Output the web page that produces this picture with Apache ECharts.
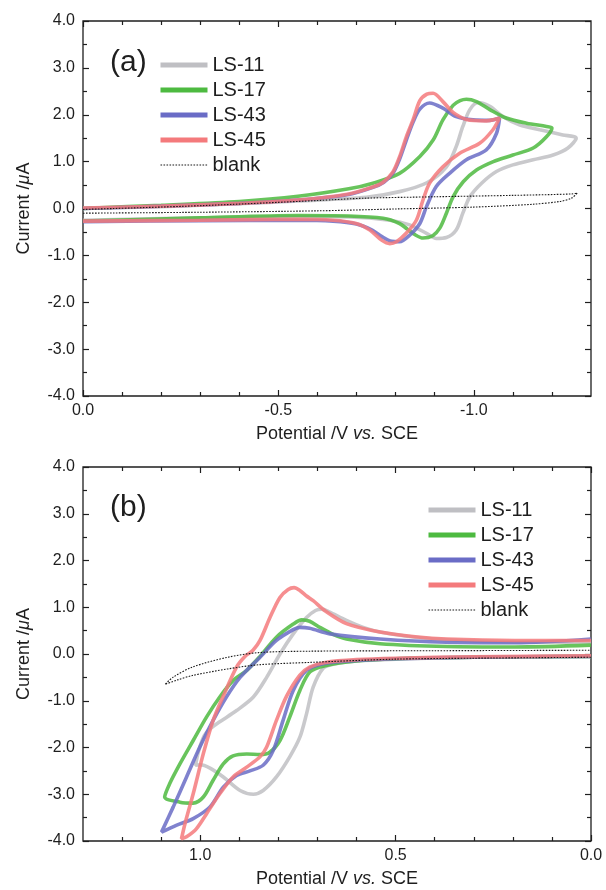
<!DOCTYPE html>
<html>
<head>
<meta charset="utf-8">
<script src="https://cdn.jsdelivr.net/npm/echarts@6/dist/echarts.min.js"></script>
<style>
  html, body { margin: 0; padding: 0; background: #fff; }
  #chart { width: 606px; height: 890px; }
</style>
</head>
<body>
<div id="chart"></div>
<script>
  // ---- data: [potential V, current uA] ----
  const seriesNames = ['LS-11', 'LS-17', 'LS-43', 'LS-45', 'blank']

  // panel (a), cathodic scans
  const aLS11 = [[0, 0.0], [-0.2, 0.04], [-0.4, 0.1], [-0.55, 0.16], [-0.725, 0.24], [-0.81, 0.36], [-0.88, 0.55], [-0.93, 0.89], [-0.955, 1.32], [-0.972, 1.75], [-0.99, 2.11], [-1.011, 2.26], [-1.041, 2.18], [-1.075, 1.96], [-1.118, 1.78], [-1.169, 1.68], [-1.228, 1.57], [-1.262, 1.5],
    [-1.241, 1.29], [-1.203, 1.14], [-1.152, 1.04], [-1.1, 0.93], [-1.058, 0.79], [-1.02, 0.54], [-0.99, 0.25], [-0.972, -0.1], [-0.955, -0.46], [-0.93, -0.62], [-0.904, -0.64], [-0.879, -0.53], [-0.836, -0.35], [-0.785, -0.25], [-0.682, -0.18], [-0.55, -0.17], [-0.3, -0.2], [0, -0.25]]
  const aLS17 = [[0, 0.0], [-0.2, 0.07], [-0.4, 0.15], [-0.55, 0.26], [-0.68, 0.42], [-0.742, 0.54], [-0.81, 0.75], [-0.862, 1.11], [-0.896, 1.46], [-0.921, 1.89], [-0.947, 2.2], [-0.965, 2.3], [-0.981, 2.33], [-1.007, 2.28], [-1.041, 2.11], [-1.083, 1.93], [-1.135, 1.82], [-1.186, 1.75], [-1.2, 1.72],
    [-1.186, 1.53], [-1.152, 1.29], [-1.1, 1.14], [-1.05, 1.0], [-1.007, 0.82], [-0.973, 0.57], [-0.947, 0.25], [-0.93, -0.1], [-0.913, -0.42], [-0.895, -0.58], [-0.87, -0.63], [-0.85, -0.56], [-0.83, -0.44], [-0.81, -0.32], [-0.768, -0.21], [-0.68, -0.16], [-0.55, -0.15], [-0.3, -0.2], [0, -0.27]]
  const aLS43 = [[0, 0.0], [-0.2, 0.05], [-0.4, 0.11], [-0.55, 0.18], [-0.68, 0.3], [-0.742, 0.45], [-0.77, 0.56], [-0.793, 0.75], [-0.81, 1.05], [-0.827, 1.45], [-0.845, 1.85], [-0.862, 2.12], [-0.887, 2.25], [-0.921, 2.14], [-0.955, 1.96], [-0.998, 1.89], [-1.041, 1.88], [-1.066, 1.93],
    [-1.058, 1.6], [-1.032, 1.25], [-0.981, 1.04], [-0.938, 0.75], [-0.904, 0.47], [-0.879, 0.04], [-0.862, -0.32], [-0.836, -0.57], [-0.81, -0.71], [-0.79, -0.7], [-0.765, -0.6], [-0.74, -0.46], [-0.7, -0.33], [-0.64, -0.27], [-0.55, -0.25], [-0.3, -0.26], [0, -0.28]]
  const aLS45 = [[0, 0.01], [-0.2, 0.05], [-0.4, 0.11], [-0.55, 0.18], [-0.68, 0.31], [-0.742, 0.46], [-0.768, 0.56], [-0.793, 0.78], [-0.81, 1.1], [-0.827, 1.52], [-0.845, 1.9], [-0.862, 2.3], [-0.88, 2.44], [-0.896, 2.46], [-0.921, 2.28], [-0.947, 2.05], [-0.981, 1.9], [-1.032, 1.87], [-1.066, 1.93],
    [-1.049, 1.68], [-1.015, 1.39], [-0.964, 1.18], [-0.921, 0.89], [-0.887, 0.54], [-0.87, 0.18], [-0.853, -0.25], [-0.827, -0.53], [-0.802, -0.71], [-0.785, -0.75], [-0.765, -0.68], [-0.734, -0.46], [-0.699, -0.32], [-0.64, -0.25], [-0.55, -0.23], [-0.3, -0.25], [0, -0.27]]
  const aBlank = [[0, -0.02], [-0.3, 0.06], [-0.6, 0.17], [-0.72, 0.22], [-0.9, 0.25], [-1.1, 0.28], [-1.25, 0.31], [-1.265, 0.33],
    [-1.25, 0.22], [-1.22, 0.15], [-1.15, 0.09], [-1.0, 0.03], [-0.8, -0.01], [-0.6, -0.05], [-0.3, -0.08], [0, -0.1]]

  // panel (b), anodic scans
  const bLS11 = [[0, -0.05], [0.3, -0.07], [0.5, -0.11], [0.6, -0.15], [0.66, -0.22], [0.685, -0.3], [0.711, -0.71], [0.728, -1.28], [0.745, -1.78], [0.771, -2.2], [0.805, -2.63], [0.839, -2.92], [0.864, -3.0], [0.898, -2.92], [0.941, -2.63], [0.975, -2.44], [1.0, -2.37], [1.012, -2.38],
    [1.005, -2.1], [0.99, -1.75], [0.975, -1.6], [0.95, -1.45], [0.907, -1.21], [0.864, -0.92], [0.83, -0.5], [0.796, 0.0], [0.762, 0.43], [0.728, 0.78], [0.705, 0.93], [0.689, 0.96], [0.67, 0.9], [0.626, 0.72], [0.583, 0.57], [0.54, 0.47], [0.45, 0.36], [0.3, 0.28], [0.1, 0.25], [0, 0.25]]
  const bLS17 = [[0, -0.05], [0.3, -0.07], [0.5, -0.1], [0.6, -0.15], [0.68, -0.25], [0.719, -0.38], [0.745, -0.78], [0.771, -1.35], [0.796, -1.85], [0.822, -2.1], [0.847, -2.15], [0.881, -2.14], [0.916, -2.18], [0.941, -2.35], [0.967, -2.7], [0.992, -3.06], [1.018, -3.19], [1.052, -3.17], [1.091, -3.06],
    [1.078, -2.77], [1.052, -2.35], [1.018, -1.85], [0.984, -1.35], [0.95, -0.92], [0.916, -0.57], [0.881, -0.35], [0.847, -0.05], [0.805, 0.36], [0.762, 0.64], [0.74, 0.73], [0.72, 0.7], [0.694, 0.57], [0.66, 0.42], [0.626, 0.32], [0.54, 0.22], [0.37, 0.16], [0.195, 0.15], [0, 0.19]]
  const bLS43 = [[0, -0.05], [0.3, -0.07], [0.5, -0.1], [0.6, -0.14], [0.68, -0.2], [0.728, -0.35], [0.762, -0.78], [0.788, -1.42], [0.813, -2.06], [0.839, -2.38], [0.873, -2.5], [0.907, -2.6], [0.941, -2.85], [0.975, -3.27], [1.018, -3.52], [1.06, -3.66], [1.099, -3.81],
    [1.069, -3.27], [1.035, -2.63], [1.001, -1.99], [0.967, -1.42], [0.933, -0.92], [0.898, -0.5], [0.847, -0.07], [0.805, 0.29], [0.762, 0.52], [0.745, 0.57], [0.72, 0.55], [0.668, 0.43], [0.54, 0.32], [0.37, 0.25], [0.195, 0.24], [0, 0.32]]
  const bLS45 = [[0, -0.04], [0.3, -0.06], [0.5, -0.09], [0.6, -0.12], [0.68, -0.18], [0.72, -0.28], [0.745, -0.45], [0.779, -0.9], [0.805, -1.42], [0.83, -1.99], [0.847, -2.2], [0.881, -2.42], [0.916, -2.63], [0.95, -2.99], [0.984, -3.42], [1.01, -3.74], [1.035, -3.91], [1.048, -3.95],
    [1.039, -3.63], [1.018, -2.99], [0.992, -2.13], [0.967, -1.42], [0.941, -0.9], [0.907, -0.28], [0.885, -0.05], [0.865, 0.08], [0.847, 0.29], [0.821, 0.79], [0.796, 1.21], [0.775, 1.38], [0.76, 1.42], [0.745, 1.36], [0.728, 1.24], [0.711, 1.14], [0.68, 0.92], [0.626, 0.65], [0.54, 0.47], [0.45, 0.37], [0.37, 0.32], [0.195, 0.29], [0, 0.29]]
  const bBlank = [[0, -0.07], [0.3, -0.09], [0.5, -0.11], [0.72, -0.18], [0.85, -0.23], [0.93, -0.32], [1.02, -0.46], [1.06, -0.56], [1.09, -0.65],
    [1.07, -0.5], [1.02, -0.28], [0.93, -0.07], [0.85, 0.03], [0.72, 0.06], [0.4, 0.07], [0, 0.08]]

  // ---- axis ticks ----
  const xMajorA = [0, -0.5, -1.0]
  const xMinorA = [-0.1, -0.2, -0.3, -0.4, -0.6, -0.7, -0.8, -0.9, -1.1, -1.2]
  const xMajorB = [0, 0.5, 1.0]
  const xMinorB = [0.1, 0.2, 0.3, 0.4, 0.6, 0.7, 0.8, 0.9, 1.1, 1.2]
  const yMinor = [-3.5, -2.5, -1.5, -0.5, 0.5, 1.5, 2.5, 3.5]

  const font = 'Liberation Sans, Arial, sans-serif'
  const ink = '#1e1e1e'
  const colors = ['#bfbfc3', '#4dba40', '#6a6cc6', '#f47a7c', '#1a1a1a']
  const dots = [1.6, 1.4]

  const nameRich = {
    t: { fontSize: 18, fontFamily: font, color: ink },
    i: { fontSize: 18, fontFamily: font, color: ink, fontStyle: 'italic' }
  }

  function tickAxis(extra) {
    return Object.assign({
      type: 'value',
      axisLine: { show: false, onZero: false },
      splitLine: { show: false },
      axisLabel: { show: false }
    }, extra)
  }

  function ticks(values, len) {
    return { inside: true, length: len, customValues: values, lineStyle: { color: ink, width: 1.2 } }
  }

  function xAxes(grid, min, max, majors, minors) {
    const base = { gridIndex: grid, min: min, max: max, inverse: true }
    return [
      tickAxis(Object.assign({}, base, {
        position: 'bottom',
        axisTick: ticks(majors, 6),
        axisLabel: { show: true, customValues: majors, formatter: v => v.toFixed(1), fontSize: 16, fontFamily: font, color: ink, margin: 7 },
        name: '{t|Potential /V }{i|vs.}{t| SCE}',
        nameLocation: 'middle',
        nameGap: 29,
        nameTextStyle: { rich: nameRich }
      })),
      tickAxis(Object.assign({}, base, { position: 'bottom', axisTick: ticks(minors, 4) })),
      tickAxis(Object.assign({}, base, { position: 'top', axisTick: ticks(majors, 6) })),
      tickAxis(Object.assign({}, base, { position: 'top', axisTick: ticks(minors, 4) }))
    ]
  }

  function yAxes(grid) {
    const base = { gridIndex: grid, min: -4, max: 4, interval: 1 }
    return [
      tickAxis(Object.assign({}, base, {
        position: 'left',
        axisTick: { inside: true, length: 6, lineStyle: { color: ink, width: 1.2 } },
        axisLabel: { show: true, formatter: v => v.toFixed(1), fontSize: 16, fontFamily: font, color: ink, margin: 8 },
        name: '{t|Current /}{i|\u03bc}{t|A}',
        nameLocation: 'middle',
        nameGap: 50,
        nameTextStyle: { rich: nameRich }
      })),
      tickAxis(Object.assign({}, base, { position: 'left', axisTick: ticks(yMinor, 4) })),
      tickAxis(Object.assign({}, base, { position: 'right', axisTick: { inside: true, length: 6, lineStyle: { color: ink, width: 1.2 } } })),
      tickAxis(Object.assign({}, base, { position: 'right', axisTick: ticks(yMinor, 4) }))
    ]
  }

  function curves(grid, list) {
    return list.map((d, i) => ({
      name: seriesNames[i],
      type: 'line',
      xAxisIndex: grid * 4,
      yAxisIndex: grid * 4,
      data: d,
      showSymbol: false,
      symbol: 'none',
      smooth: 0.3,
      z: 2 + i,
      lineStyle: i === 4
        ? { color: colors[i], width: 1.1, type: dots }
        : { color: colors[i], width: 3.6, opacity: 0.85 },
      itemStyle: { color: colors[i] }
    }))
  }

  function legendAt(left, top) {
    return {
      data: seriesNames.map((n, i) => ({
        name: n,
        itemStyle: { opacity: 0 },
        lineStyle: i === 4 ? { width: 1.1, type: dots } : { width: 5, opacity: 1 }
      })),
      orient: 'vertical',
      left: left,
      top: top,
      padding: 0,
      itemWidth: 47,
      itemHeight: 20,
      itemGap: 5,
      selectedMode: false,
      textStyle: { fontSize: 20, fontFamily: font, color: ink }
    }
  }

  const chart = echarts.init(document.getElementById('chart'), null, { renderer: 'canvas' })
  chart.setOption({
    backgroundColor: '#fff',
    animation: false,
    grid: [
      { left: 83, top: 21, width: 508, height: 375, show: true, borderColor: ink, borderWidth: 1.3 },
      { left: 83, top: 467, width: 508, height: 374, show: true, borderColor: ink, borderWidth: 1.3 }
    ],
    xAxis: xAxes(0, -1.3, 0, xMajorA, xMinorA).concat(xAxes(1, 0, 1.3, xMajorB, xMinorB)),
    yAxis: yAxes(0).concat(yAxes(1)),
    legend: [legendAt(158, 55), legendAt(426, 500)],
    graphic: [
      { type: 'text', left: 110, top: 48, style: { text: '(a)', font: '30px ' + font, fill: ink } },
      { type: 'text', left: 110, top: 493, style: { text: '(b)', font: '30px ' + font, fill: ink } }
    ],
    series: curves(0, [aLS11, aLS17, aLS43, aLS45, aBlank])
      .concat(curves(1, [bLS11, bLS17, bLS43, bLS45, bBlank]))
  })
</script>
</body>
</html>
